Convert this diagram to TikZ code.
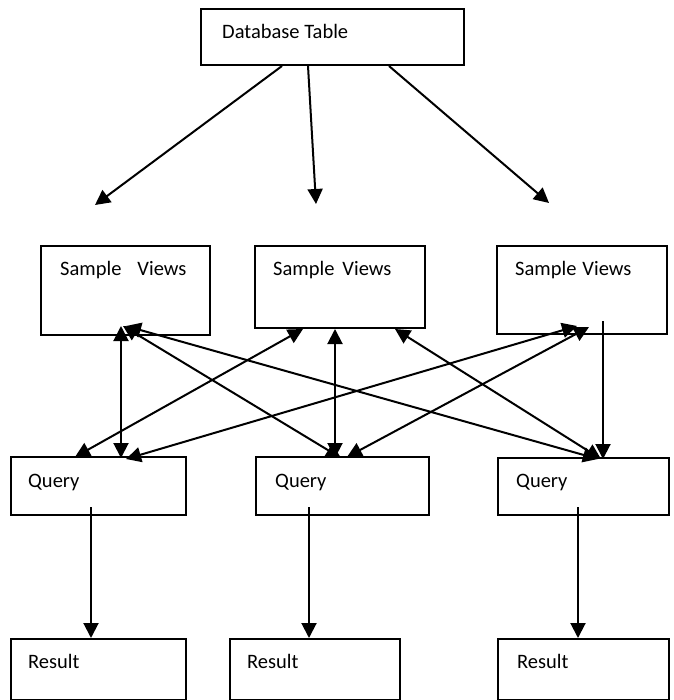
\documentclass[tikz,border=0pt]{standalone}
\usepackage{fontspec}
\setmainfont{Carlito}
\usetikzlibrary{arrows.meta}
\tikzset{
  box/.style={draw=black, line width=2pt, inner sep=0pt, anchor=north west},
  lbl/.style={anchor=base west, inner sep=0pt, font=\fontsize{20.5}{24}\selectfont},
  conn/.style={line width=2pt, -{Triangle[length=15pt,width=15pt]}},
  dconn/.style={line width=2pt, {Triangle[length=15pt,width=15pt]}-{Triangle[length=15pt,width=15pt]}}
}
\begin{document}
\begin{tikzpicture}[x=1pt, y=-1pt]
\useasboundingbox (0,0) rectangle (673,700);

% boxes (top-left corner, width x height)
\node[box, minimum width=263pt, minimum height=56pt] (db)  at (200,8) {};
\node[box, minimum width=169pt, minimum height=89pt] (sv1) at (40,245) {};
\node[box, minimum width=170pt, minimum height=82pt] (sv2) at (254,245) {};
\node[box, minimum width=170pt, minimum height=88pt] (sv3) at (496,245) {};
\node[box, minimum width=175pt, minimum height=58pt] (q1)  at (10,456) {};
\node[box, minimum width=173pt, minimum height=58pt] (q2)  at (255,456) {};
\node[box, minimum width=171pt, minimum height=57pt] (q3)  at (497,457) {};
\node[box, minimum width=175pt, minimum height=61pt] (r1)  at (10,638) {};
\node[box, minimum width=170pt, minimum height=61pt] (r2)  at (229,638) {};
\node[box, minimum width=171pt, minimum height=61pt] (r3)  at (497,638) {};

% box texts
\node[lbl] (dbt)  at (222,39)  {Database Table};
\node[lbl] (sv1t) at (60,275)  {Sample\hspace{16pt}Views};
\node[lbl] (sv2t) at (273,275) {Sample\hspace{8pt}Views};
\node[lbl] (sv3t) at (515,275) {Sample\hspace{6pt}Views};
\node[lbl] (q1t)  at (28,487)  {Query};
\node[lbl] (q2t)  at (275,487) {Query};
\node[lbl] (q3t)  at (516,487) {Query};
\node[lbl] (r1t)  at (28,668)  {Result};
\node[lbl] (r2t)  at (247,668) {Result};
\node[lbl] (r3t)  at (517,668) {Result};

% free ends of the table arrows
\coordinate (e1) at (95,205);
\coordinate (e2) at (316,204);
\coordinate (e3) at (549,203);

% table to the views
\draw[conn] ([xshift=82pt]db.south west) -- (e1);
\draw[conn] ([xshift=108pt]db.south west) -- (e2);
\draw[conn] ([xshift=189pt]db.south west) -- (e3);

% views <-> queries
\draw[dconn] ([xshift=81pt,yshift=10pt]sv1.south west) -- ([xshift=111pt,yshift=-2pt]q1.north west);
\draw[dconn] ([xshift=83pt,yshift=10pt]sv1.south west) -- ([xshift=86pt,yshift=-2pt]q2.north west);
\draw[dconn] ([xshift=86pt,yshift=10pt]sv1.south west) -- ([xshift=101pt,yshift=-2pt]q3.north west);
\draw[dconn] ([xshift=49pt]sv2.south west) -- ([xshift=65pt,yshift=-1pt]q1.north west);
\draw[dconn] ([xshift=81pt]sv2.south west) -- ([xshift=80pt,yshift=-2pt]q2.north west);
\draw[dconn] ([xshift=141pt]sv2.south west) -- ([xshift=104pt,yshift=-2pt]q3.north west);
\draw[dconn] ([xshift=81pt,yshift=9pt]sv3.south west) -- ([xshift=116pt,yshift=-3pt]q1.north west);
\draw[dconn] ([xshift=93pt,yshift=8pt]sv3.south west) -- ([xshift=92pt,yshift=-1pt]q2.north west);
\draw[conn]  ([xshift=107pt,yshift=14pt]sv3.south west) -- ([xshift=106pt,yshift=-2pt]q3.north west);

% queries to results
\draw[conn] ([xshift=81pt,yshift=9pt]q1.south west) -- ([xshift=81pt]r1.north west);
\draw[conn] ([xshift=54pt,yshift=9pt]q2.south west) -- ([xshift=80pt]r2.north west);
\draw[conn] ([xshift=81pt,yshift=9pt]q3.south west) -- ([xshift=81pt]r3.north west);
\end{tikzpicture}
\end{document}
